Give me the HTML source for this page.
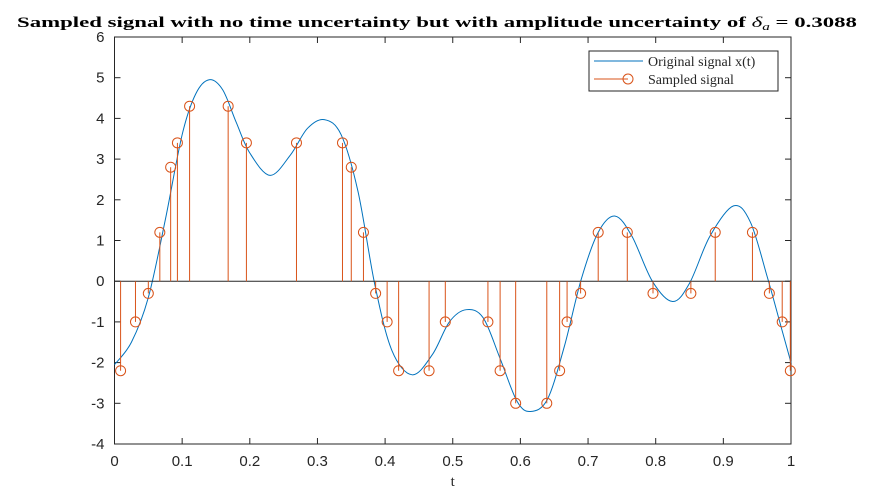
<!DOCTYPE html>
<html><head><meta charset="utf-8"><style>
body{margin:0;background:#fff;width:875px;height:500px;overflow:hidden}
svg{display:block}
text{font-family:"Liberation Sans",sans-serif}
</style></head><body>
<svg id="chart" width="875" height="500">
<rect x="0" y="0" width="875" height="500" fill="#fff"/>
<text x="437" y="27" text-anchor="middle" font-family="Liberation Serif, serif" font-weight="bold" font-size="15" textLength="840" lengthAdjust="spacingAndGlyphs" style="font-family:'Liberation Serif',serif">Sampled signal with no time uncertainty but with amplitude uncertainty of <tspan font-style="italic" font-weight="normal">δ</tspan><tspan font-style="italic" font-weight="normal" font-size="10" dy="3">a</tspan><tspan dy="-3"> = 0.3088</tspan></text>
<g id="axes"></g>
<g id="series"></g>
<g>
<rect x="589" y="51" width="189" height="40" fill="#fff" stroke="#262626" stroke-width="1"/>
<line x1="594" y1="61" x2="643" y2="61" stroke="#0072bd" stroke-width="1"/>
<text x="648" y="66" font-size="14" fill="#262626" style="font-family:'Liberation Serif',serif">Original signal x(t)</text>
<line x1="594" y1="79" x2="628" y2="79" stroke="#d95319" stroke-width="1"/>
<circle cx="628" cy="79" r="5" fill="none" stroke="#d95319"/>
<text x="648" y="84" font-size="14" fill="#262626" style="font-family:'Liberation Serif',serif">Sampled signal</text>
</g>
</svg>
<script>
const curveT=[0,0.025,0.05,0.075,0.1,0.12,0.14,0.16,0.18,0.2,0.23,0.26,0.285,0.31,0.335,0.36,0.385,0.41,0.44,0.47,0.495,0.52,0.545,0.57,0.595,0.615,0.64,0.665,0.69,0.715,0.74,0.765,0.795,0.825,0.85,0.88,0.915,0.94,0.965,0.985,1];
const curveX=[-2.05,-1.5,-0.4,1.5,3.6,4.6,4.95,4.7,3.9,3.15,2.6,3.1,3.75,3.97,3.6,2.2,-0.1,-1.7,-2.3,-1.8,-1.0,-0.7,-0.9,-1.9,-2.95,-3.2,-2.9,-1.6,0.05,1.2,1.6,1.1,0.0,-0.5,-0.05,1.1,1.85,1.45,0.1,-1.1,-2.0];
const sampleT=[0.009,0.031,0.050,0.067,0.083,0.093,0.111,0.168,0.195,0.269,0.337,0.350,0.368,0.386,0.403,0.420,0.465,0.489,0.552,0.570,0.593,0.639,0.658,0.669,0.689,0.715,0.758,0.796,0.852,0.888,0.943,0.968,0.987,0.999];
const sampleX=[-2.2,-1,-0.3,1.2,2.8,3.4,4.3,4.3,3.4,3.4,3.4,2.8,1.2,-0.3,-1,-2.2,-2.2,-1,-1,-2.2,-3,-3,-2.2,-1,-0.3,1.2,1.2,-0.3,-0.3,1.2,1.2,-0.3,-1,-2.2];
const xTicks=[0,0.1,0.2,0.3,0.4,0.5,0.6,0.7,0.8,0.9,1];
const xTickLabels=["0","0.1","0.2","0.3","0.4","0.5","0.6","0.7","0.8","0.9","1"];
const yTicks=[-4,-3,-2,-1,0,1,2,3,4,5,6];
const yTickLabels=["-4","-3","-2","-1","0","1","2","3","4","5","6"];
const L=114.5,R=791,T=37,B=444;
const sx=t=>L+(t-0)/(1-0)*(R-L);
const sy=v=>B-(v+4)/10*(B-T);
const NS="http://www.w3.org/2000/svg";
function mk(tag,attrs,parent){const e=document.createElementNS(NS,tag);for(const k in attrs)e.setAttribute(k,attrs[k]);parent.appendChild(e);return e;}
const ax=document.getElementById('axes'),se=document.getElementById('series');
xTicks.forEach((t,i)=>{
  const l=mk('line',{x1:sx(t),x2:sx(t),y1:B,y2:B-6,stroke:'#262626'},ax);
  
  
  const l2=mk('line',{x1:sx(t),x2:sx(t),y1:T,y2:T+6,stroke:'#262626'},ax);
  
  
  const tx=mk('text',{x:sx(t),y:B+22,'text-anchor':'middle','font-size':'15',fill:'#262626'},ax);
  tx.textContent=xTickLabels[i];
  
  
});
yTicks.forEach((v,i)=>{
  const l=mk('line',{x1:L,x2:L+6,y1:sy(v),y2:sy(v),stroke:'#262626'},ax);
  
  
  const l2=mk('line',{x1:R,x2:R-6,y1:sy(v),y2:sy(v),stroke:'#262626'},ax);
  
  
  const tx=mk('text',{x:L-10,y:sy(v)+5,'text-anchor':'end','font-size':'15',fill:'#262626'},ax);
  tx.textContent=yTickLabels[i];
  
  
});
const box=mk('rect',{x:L,y:T,width:R-L,height:B-T,fill:'none',stroke:'#262626'},ax);


const xl=mk('text',{x:(L+R)/2,y:B+42,'text-anchor':'middle','font-size':'15',fill:'#262626',style:"font-family:'Liberation Serif',serif"},ax);
xl.textContent='t';


const P=curveT.map((t,i)=>[sx(t),sy(curveX[i])]);
let d='M'+P[0][0]+','+P[0][1];
for(let i=0;i<P.length-1;i++){const p0=P[Math.max(0,i-1)],p1=P[i],p2=P[i+1],p3=P[Math.min(P.length-1,i+2)];
  d+=' C'+(p1[0]+(p2[0]-p0[0])/6)+','+(p1[1]+(p2[1]-p0[1])/6)+' '+(p2[0]-(p3[0]-p1[0])/6)+','+(p2[1]-(p3[1]-p1[1])/6)+' '+p2[0]+','+p2[1];}
const cp=mk('path',{d:d,fill:'none',stroke:'#0072bd','stroke-width':'1'},se);


const bl=mk('line',{x1:L,x2:R,y1:sy(0),y2:sy(0),stroke:'#262626'},se);


sampleT.forEach((t,i)=>{
  const l=mk('line',{x1:sx(t),x2:sx(t),y1:sy(0),y2:sy(sampleX[i]),stroke:'#d95319','stroke-width':'1'},se);
  
  
  const c=mk('circle',{cx:sx(t),cy:sy(sampleX[i]),r:5,fill:'none',stroke:'#d95319','stroke-width':'1'},se);
  
  
});
</script>
</body></html>
